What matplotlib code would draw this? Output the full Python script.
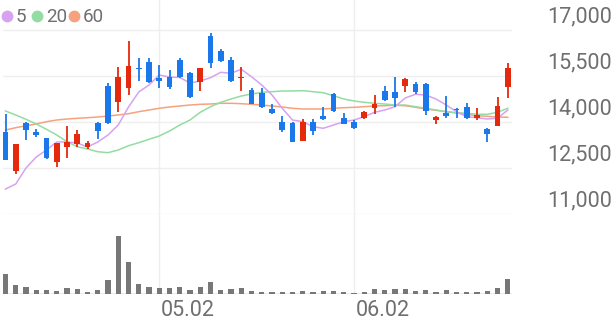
import matplotlib
matplotlib.use("Agg")
import matplotlib.pyplot as plt
from matplotlib.transforms import blended_transform_factory
import numpy as np

# ---------------- data ----------------
opens  = [13664, 12412, 13958, 13684, 13468, 12686, 13185, 13283, 13185, 13967,
          15174, 14642, 15099, 15771, 15947, 15425, 15477, 16022, 15588, 15295,
          16804, 16315, 16022, 15425, 15034, 14936, 14424, 14010, 13977, 13380,
          14010, 14205, 14913, 14140, 14010, 14140, 14466, 15011, 14988, 15174,
          15229, 15239, 14065, 14284, 14424, 14499, 14121, 13761, 13879, 15132]
highs  = [14251, 13283, 14010, 13772, 13490, 13305, 13870, 13739, 13390, 14000,
          15262, 15803, 16641, 16077, 16077, 15859, 15696, 16077, 15620, 15771,
          16892, 16380, 16130, 15803, 15099, 15118, 14577, 14205, 14010, 14098,
          14098, 14499, 14936, 14284, 14065, 14359, 14880, 15174, 15477, 15425,
          15295, 15262, 14205, 14858, 14446, 14610, 14466, 13794, 14825, 15914]
lows   = [12761, 12304, 13403, 13521, 12800, 12543, 12836, 13175, 13120, 13436,
          13935, 14316, 14880, 15337, 15262, 15099, 15066, 15425, 14770, 15011,
          15751, 15947, 15295, 15021, 14577, 14466, 14261, 13684, 13338, 13380,
          13576, 14065, 14316, 13925, 13772, 14098, 14251, 14685, 14499, 14988,
          14903, 14228, 13925, 14140, 14140, 14098, 14065, 13358, 13879, 14792]
closes = [12761, 13283, 13729, 13576, 12836, 13305, 13358, 13599, 13315, 13707,
          13958, 15477, 15826, 15718, 15295, 15337, 15151, 15477, 14825, 15771,
          15914, 15989, 15337, 15477, 14587, 14489, 14303, 13739, 13358, 14010,
          13707, 14098, 14359, 13945, 13794, 14336, 14587, 14717, 14792, 15392,
          14988, 14359, 14153, 14205, 14381, 14121, 14228, 13599, 14532, 15751]
volumes = [400000, 186000, 134000, 80000, 80000, 66000, 114000, 100000, 46000, 86000,
           280000, 1154000, 646000, 200000, 134000, 114000, 114000, 146000, 86000, 134000,
           246000, 86000, 100000, 120000, 60000, 40000, 34000, 46000, 46000, 54000,
           34000, 60000, 60000, 34000, 26000, 46000, 94000, 80000, 94000, 94000,
           60000, 74000, 40000, 80000, 40000, 40000, 40000, 54000, 114000, 300000]
ma5 = [11815, 11978, 12500, 12859, 13087, 13348, 13348, 13315, 13185, 13348,
       13576, 13902, 14489, 14978, 15207, 15533, 15467, 15451, 15272, 15337,
       15445, 15621, 15588, 15718, 15477, 15207, 14880, 14447, 14065, 14010,
       13847, 13795, 13902, 14010, 14065, 14173, 14316, 14391, 14499, 14783,
       14903, 14880, 14750, 14554, 14336, 14173, 14140, 14098, 14121, 14391]
ma20 = [14359, 14228, 14088, 13935, 13762, 13576, 13358, 13195, 13120, 13031,
        12999, 13087, 13227, 13325, 13436, 13543, 13706, 13902, 14065, 14316,
        14499, 14642, 14750, 14848, 14913, 14968, 14988, 15011, 15011, 15021,
        14988, 14955, 14858, 14750, 14685, 14642, 14610, 14587, 14554, 14554,
        14499, 14447, 14391, 14336, 14303, 14284, 14251, 14251, 14316, 14447]
ma60 = [13739, 13814, 13879, 13935, 14010, 14065, 14098, 14121, 14140, 14163,
        14196, 14228, 14271, 14336, 14391, 14447, 14489, 14522, 14554, 14577,
        14587, 14610, 14610, 14597, 14577, 14554, 14522, 14489, 14447, 14424,
        14424, 14424, 14447, 14466, 14479, 14499, 14522, 14531, 14545, 14530,
        14480, 14424, 14382, 14336, 14293, 14251, 14205, 14186, 14163, 14153]
ytick_values = [11000, 12500, 14000, 15500, 17000]
ytick_labels = ["11,000", "12,500", "14,000", "15,500", "17,000"]
xtick_index = [15, 34]
xtick_labels = ["05.02", "06.02"]
legend_labels = ["5", "20", "60"]

# ---------------- style ----------------
plt.rcParams['font.family'] = ['Roboto', 'DejaVu Sans']
RED = '#e5290c'
BLUE = '#1a78ea'
C5, C20, C60 = '#d7a2f0', '#93dca3', '#f6a27f'
GRID = '#efefef'
TXT = '#6f6f6f'

W, H = 616, 321
fig = plt.figure(figsize=(W / 100, H / 100), dpi=100)

def fx(px):
    return px / W

def fy(py):
    return 1 - py / H

x_left, x_right = 3, 512
i_per_px = 1 / 10.25
xmin = (x_left - 5.5) * i_per_px
xmax = (x_right - 5.5) * i_per_px
n = len(closes)
idx = np.arange(n)

# price axes: pixel y 0..214, 17000 at y=30, 11000 at y=214
ppp = 1500 / 46.0
ax = fig.add_axes([fx(x_left), fy(214), fx(x_right - x_left), (214 - 0) / H])
ax.set_xlim(xmin, xmax)
ax.set_ylim(11000, 17000 + 30 * ppp)
ax.axis('off')
for v in ytick_values:
    ax.axhline(v, color=GRID, lw=1.0, zorder=0)
for xi in xtick_index:
    ax.axvline(xi, color=GRID, lw=1.0, zorder=0)

ax.plot(idx, ma60, color=C60, lw=1.1, zorder=2)
ax.plot(idx, ma20, color=C20, lw=1.1, zorder=2)
ax.plot(idx, ma5, color=C5, lw=1.1, zorder=2)

o = np.array(opens); c = np.array(closes)
col = [RED if cc >= oo else BLUE for oo, cc in zip(o, c)]
ax.vlines(idx, lows, highs, colors=col, lw=1.3, zorder=3)
body_b = np.minimum(o, c)
body_h = np.maximum(np.abs(c - o), 45)
ax.bar(idx, body_h, bottom=body_b, width=0.58, color=col, zorder=4, linewidth=0)

# y labels (right side, slightly above the gridlines)
ytrans = blended_transform_factory(fig.transFigure, ax.transData)
for v, lab in zip(ytick_values, ytick_labels):
    ax.text(fx(612), v + 13.5 * ppp, lab, transform=ytrans,
            ha='right', va='center', fontsize=15.5, color=TXT)

# volume axes: pixel y 214..294
axv = fig.add_axes([fx(x_left), fy(294), fx(x_right - x_left), 80 / H])
axv.set_xlim(xmin, xmax)
axv.set_ylim(0, 1600000)
axv.axis('off')
for xi in xtick_index:
    axv.axvline(xi, color=GRID, lw=1.0, zorder=0)
axv.axhline(0, color='#e6e6e6', lw=1.2, zorder=0)
axv.bar(idx, volumes, width=0.5, color='#777777', linewidth=0, zorder=2)

for xi, lab in zip(xtick_index, xtick_labels):
    axv.text(xi + 0.15, -0.2, lab, transform=axv.get_xaxis_transform(),
             ha='left', va='center', fontsize=15.5, color=TXT)

# legend
leg_x_dot = [7, 37, 74]
leg_x_txt = [15.5, 46.5, 82.5]
for xd, xt, lab, cc in zip(leg_x_dot, leg_x_txt, legend_labels, [C5, C20, C60]):
    fig.add_artist(plt.Line2D([fx(xd)], [fy(16)], marker='o', markersize=7.5,
                              color=cc, linestyle='none', transform=fig.transFigure))
    fig.text(fx(xt), fy(16.5), lab, ha='left', va='center', fontsize=13.5, color=TXT)

fig.savefig("out.png", dpi=100)
